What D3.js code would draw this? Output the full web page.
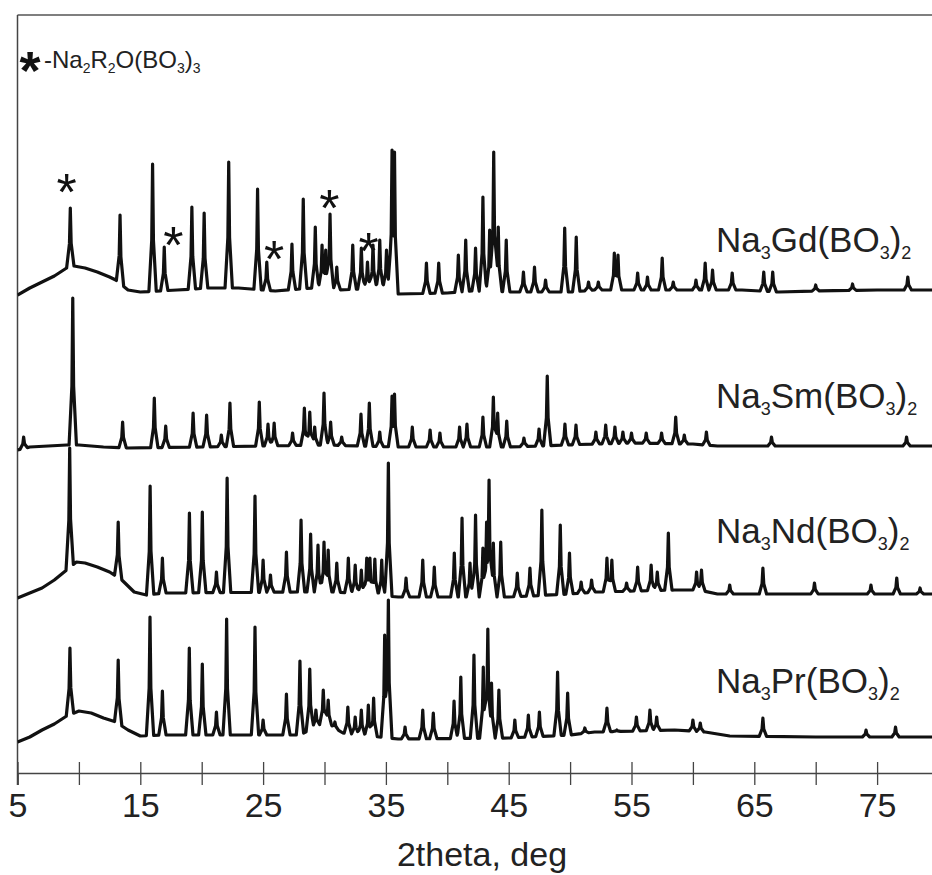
<!DOCTYPE html>
<html>
<head>
<meta charset="utf-8">
<script src="https://cdn.jsdelivr.net/npm/d3@7"></script>
<style>
  body { margin: 0; background: #fff; }
  svg { display: block; }
</style>
</head>
<body>
<div id="chart"></div>
<script>
// 2theta (deg), intensity above each pattern's own zero (arb. units)
const gdBackground = [[5, 0], [6, 7], [7, 13], [8, 19], [9, 27], [9.6, 29], [10.5, 27], [11.5, 23], [12.5, 18], [13, 15], [14, 5], [15, 3], [18, 5], [20.5, 7], [23, 7], [26, 4], [29, 7], [31, 5], [35, 7], [36, 1], [40, 2], [42, 4], [45.5, 3], [50, 3], [52, 5], [60, 5], [64, 5], [67, 3], [70, 4], [75, 5], [80, 5]];
const gdPeaks = [[9.3, 87], [13.35, 80], [16.0, 131], [16.95, 48], [19.2, 88], [20.2, 82], [22.2, 133], [24.55, 106], [25.3, 33], [27.35, 51], [28.27, 96], [29.25, 68], [29.8, 50], [30.1, 45], [30.45, 81], [31.0, 28], [32.3, 50], [33.0, 47], [33.5, 33], [33.95, 50], [34.5, 55], [35.05, 45], [35.5, 145], [35.7, 143], [38.3, 32], [39.3, 32], [40.9, 40], [41.5, 55], [42.3, 47], [42.9, 98], [43.45, 65], [43.78, 143], [44.15, 68], [44.8, 55], [46.2, 23], [47.1, 28], [48.0, 15], [49.56, 67], [50.5, 58], [51.5, 13], [52.3, 13], [53.6, 42], [53.9, 40], [55.5, 22], [56.3, 18], [57.5, 37], [58.4, 13], [60.25, 15], [61.0, 32], [61.6, 25], [63.2, 22], [65.77, 23], [66.5, 23], [70.0, 10], [73.0, 11], [77.5, 18]];

const smBackground = [[5, 0], [6, 3], [9, 5], [10, 5], [12, 3], [14, 2], [20, 3], [30, 5], [36, 3], [45, 3], [52, 6], [55, 7], [60, 6], [62, 4], [70, 4], [80, 4]];
const smPeaks = [[5.5, 13], [9.5, 152], [13.56, 28], [16.14, 52], [17.07, 24], [19.3, 37], [20.4, 35], [21.6, 15], [22.3, 47], [24.69, 48], [25.4, 26], [25.9, 27], [27.4, 17], [28.36, 42], [28.8, 38], [29.2, 23], [29.96, 57], [30.5, 28], [31.4, 13], [32.97, 36], [33.65, 47], [34.5, 18], [35.5, 54], [35.7, 56], [37.15, 23], [38.6, 20], [39.4, 17], [41.0, 23], [41.6, 26], [42.9, 33], [43.75, 53], [44.1, 37], [44.84, 29], [46.24, 12], [47.47, 21], [48.14, 74], [49.58, 26], [50.48, 25], [52.1, 18], [52.9, 25], [53.65, 23], [54.3, 18], [55.0, 17], [56.2, 17], [57.45, 17], [58.6, 33], [59.3, 15], [61.1, 18], [66.4, 13], [77.4, 13]];

const ndBackground = [[5, 0], [6, 5], [7, 10], [8, 18], [9, 28], [9.8, 36], [10.5, 35], [11.5, 31], [12.5, 26], [13.5, 18], [14.5, 6], [15.5, 3], [17, 5], [28, 6], [31, 6], [36, 1], [45, 1], [50, 4], [52, 6], [58.5, 8], [60.5, 8], [62, 4], [70, 4], [80, 4]];
const ndPeaks = [[9.25, 150], [13.2, 76], [15.8, 112], [16.8, 40], [19.0, 85], [20.05, 86], [21.2, 26], [22.07, 120], [24.34, 102], [25.0, 38], [25.6, 23], [26.9, 46], [28.09, 78], [28.87, 64], [29.47, 53], [29.96, 56], [30.3, 48], [31.0, 35], [31.94, 40], [32.5, 33], [33.0, 28], [33.44, 40], [33.7, 40], [34.1, 39], [34.66, 38], [35.2, 135], [36.64, 20], [38.0, 38], [38.94, 31], [40.57, 45], [41.2, 80], [41.85, 35], [42.3, 83], [42.9, 50], [43.2, 76], [43.4, 118], [43.75, 55], [44.35, 56], [45.7, 25], [46.73, 30], [47.7, 88], [49.2, 73], [49.95, 45], [50.9, 16], [51.75, 18], [53.0, 40], [53.4, 38], [54.6, 15], [55.5, 31], [56.6, 33], [57.1, 26], [58.0, 65], [60.3, 26], [60.7, 28], [63.0, 13], [65.7, 30], [69.9, 15], [74.5, 13], [76.6, 20], [78.5, 10]];

const prBackground = [[5, 0], [6, 5], [7, 12], [8, 18], [9, 26], [10, 31], [11, 29], [12, 24], [13, 20], [14, 12], [15, 6], [17, 7], [28, 7], [30, 20], [31.5, 9], [36, 3], [45, 4], [50, 7], [52, 10], [58.5, 12], [61, 10], [63, 6], [70, 5], [80, 5]];
const prPeaks = [[9.27, 94], [13.2, 82], [15.79, 125], [16.8, 51], [18.99, 94], [20.05, 78], [21.2, 30], [22.03, 123], [24.34, 115], [25.0, 22], [26.9, 48], [28.0, 81], [28.8, 73], [29.3, 32], [29.9, 52], [30.3, 42], [30.85, 20], [31.9, 35], [32.5, 25], [33.0, 32], [33.57, 37], [34.0, 44], [34.9, 107], [35.2, 142], [36.56, 15], [38.0, 32], [38.86, 29], [40.55, 41], [41.1, 65], [42.17, 87], [42.93, 75], [43.3, 113], [43.6, 59], [44.2, 52], [45.5, 22], [46.6, 27], [47.5, 30], [48.98, 70], [49.8, 49], [51.2, 14], [53.0, 34], [53.8, 12], [55.4, 25], [56.5, 32], [57.05, 25], [60.0, 22], [60.6, 19], [65.7, 24], [74.1, 12], [76.5, 15]];

const sampleNames = ["Na3Gd(BO3)2", "Na3Sm(BO3)2", "Na3Nd(BO3)2", "Na3Pr(BO3)2"];
const impurityName = "-Na2R2O(BO3)3";
// impurity marks on the Gd pattern: [2theta, height]
const impurityMarks = [[9.0, 115], [17.7, 62], [25.9, 48], [30.4, 99], [33.6, 56]];
const tickValues = [5, 10, 15, 20, 25, 30, 35, 40, 45, 50, 55, 60, 65, 70, 75, 80];
const tickLabels = [5, 15, 25, 35, 45, 55, 65, 75];
const xTitle = "2theta, deg";

const width = 932;
const height = 875;
const plotLeft = 17.5;
const plotTop = 15;
const axisY = 773;

const x = d3.scaleLinear().domain([5, 80]).range([plotLeft, plotLeft + 75 * 12.28]);
const y = d3.scaleLinear().domain([0, axisY - plotTop]).range([axisY, plotTop]);

const patterns = [
  { bg: gdBackground, peaks: gdPeaks, offset: 478, labelY: 252, name: sampleNames[0] },
  { bg: smBackground, peaks: smPeaks, offset: 323, labelY: 408, name: sampleNames[1] },
  { bg: ndBackground, peaks: ndPeaks, offset: 175, labelY: 543, name: sampleNames[2] },
  { bg: prBackground, peaks: prPeaks, offset: 31, labelY: 693, name: sampleNames[3] },
];

const svg = d3
  .select("#chart")
  .append("svg")
  .attr("width", width)
  .attr("height", height)
  .style("font-family", "'Liberation Sans', Arial, sans-serif");

svg.append("defs").append("clipPath").attr("id", "plot")
  .append("rect").attr("x", plotLeft).attr("y", plotTop).attr("width", width - plotLeft).attr("height", axisY - plotTop);

// frame
svg.append("line").attr("x1", plotLeft).attr("x2", width).attr("y1", plotTop).attr("y2", plotTop)
  .attr("stroke", "#555").attr("stroke-width", 1.5);
svg.append("line").attr("x1", plotLeft).attr("x2", plotLeft).attr("y1", plotTop).attr("y2", axisY + 12)
  .attr("stroke", "#444").attr("stroke-width", 1.5);

// peak shape: tip and foot half-widths in degrees
const tipW = 0.07;
const footW = 0.3;
const shape = (d) => {
  const a = Math.abs(d);
  if (a >= footW) return 0;
  if (a <= tipW) return 1 - 0.6 * (a / tipW);
  return 0.4 * (1 - (a - tipW) / (footW - tipW));
};

const line = d3.line().x((d) => x(d[0])).y((d) => y(d[1]));

function addFormula(textSel, formula, subSize, shift) {
  formula.split(/(\d)/).filter((s) => s.length).forEach((part) => {
    const isSub = /^\d$/.test(part);
    textSel.append("tspan")
      .attr("font-size", isSub ? subSize : null)
      .attr("baseline-shift", isSub ? -shift : null)
      .text(part);
  });
}

patterns.forEach((p) => {
  const bgScale = d3.scaleLinear().domain(p.bg.map((d) => d[0])).range(p.bg.map((d) => d[1]));
  const xs = p.bg.map((d) => d[0]);
  p.peaks.forEach(([pos]) => {
    xs.push(pos - footW, pos - tipW, pos, pos + tipW, pos + footW);
  });
  const pts = Array.from(new Set(xs)).sort((a, b) => a - b).map((t) => {
    let v = 0;
    p.peaks.forEach(([pos, h]) => {
      v = Math.max(v, (h - bgScale(pos)) * shape(t - pos));
    });
    return [t, p.offset + bgScale(t) + v];
  });

  svg.append("path")
    .datum(pts)
    .attr("clip-path", "url(#plot)")
    .attr("fill", "none")
    .attr("stroke", "#111")
    .attr("stroke-width", 3.2)
    .attr("stroke-linejoin", "round")
    .attr("d", line);

  const label = svg.append("text")
    .attr("x", 716)
    .attr("y", p.labelY)
    .attr("font-size", 35)
    .attr("fill", "#222");
  addFormula(label, p.name, 18, 7);
});

// impurity marks on Gd pattern
svg.selectAll(".mark")
  .data(impurityMarks)
  .enter()
  .append("text")
  .attr("class", "mark")
  .attr("x", (d) => x(d[0]))
  .attr("y", (d) => y(patterns[0].offset + d[1]) + 30)
  .attr("text-anchor", "middle")
  .attr("font-size", 52)
  .attr("fill", "#111")
  .text("*");

// legend
svg.append("text")
  .attr("x", 30)
  .attr("y", 58 + 31)
  .attr("text-anchor", "middle")
  .attr("font-size", 54)
  .attr("font-weight", "bold")
  .attr("fill", "#111")
  .text("*");
const legend = svg.append("text")
  .attr("x", 44)
  .attr("y", 68)
  .attr("font-size", 24)
  .attr("fill", "#222");
addFormula(legend, impurityName, 14, 5);

// x axis
const axis = svg.append("g")
  .attr("transform", `translate(0, ${axisY})`)
  .call(
    d3.axisBottom(x)
      .tickValues(tickValues)
      .tickSizeOuter(0)
      .tickSize(12)
      .tickFormat((d) => (tickLabels.includes(d) ? d : ""))
  );
axis.select(".domain").attr("stroke", "#444").attr("stroke-width", 1.5);
axis.selectAll(".tick line").attr("y1", -11).attr("y2", 12).attr("stroke", "#444").attr("stroke-width", 1.3);
axis.selectAll(".tick text")
  .attr("y", 44)
  .attr("dy", 0)
  .attr("font-size", 34)
  .attr("font-family", "'Liberation Sans', Arial, sans-serif")
  .attr("fill", "#222");

svg.append("text")
  .attr("x", 482)
  .attr("y", 866)
  .attr("text-anchor", "middle")
  .attr("font-size", 34)
  .attr("fill", "#222")
  .text(xTitle);
</script>
</body>
</html>
